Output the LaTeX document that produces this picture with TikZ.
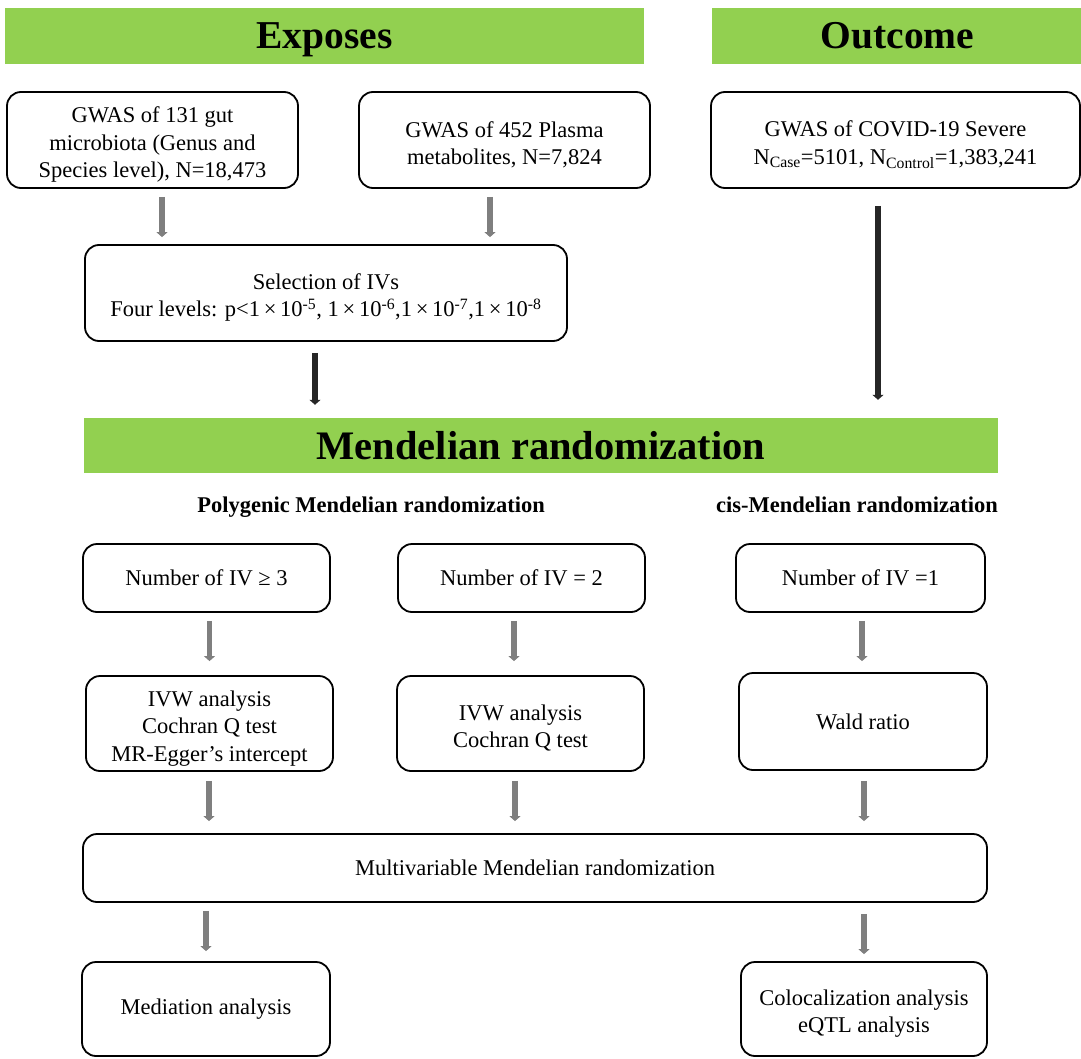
\documentclass[tikz,border=0pt]{standalone}
\usepackage{fontspec}
\setmainfont{Liberation Serif}
\usetikzlibrary{arrows.meta,calc}
\definecolor{hgreen}{HTML}{92D050}
\definecolor{garr}{HTML}{7F7F7F}
\definecolor{darr}{HTML}{262626}
\newcommand{\firstln}{\rule{0pt}{25pt}}
\begin{document}
\begin{tikzpicture}[x=1pt,y=-1pt,
  box/.style={draw=black,line width=1.8pt,rounded corners=14pt,align=center,
    font=\fontsize{22.5}{27.5}\selectfont,inner sep=0pt},
  bar/.style={fill=hgreen,draw=none,inner sep=0pt,text height=26pt,text depth=0pt,
    font=\fontsize{39.5}{41}\selectfont\bfseries},
  sublabel/.style={inner sep=0pt,text height=15pt,text depth=0pt,font=\fontsize{22.5}{25}\selectfont\bfseries},
  garrow/.style={draw=garr,line width=5.5pt,-{Triangle[length=5pt,width=11pt]}},
  darrow/.style={draw=darr,line width=5.5pt,-{Triangle[length=5pt,width=11pt]}}]
\useasboundingbox (0,0) rectangle (1081,1059);
% header bars
\node[bar,minimum width=639pt,minimum height=56pt] (exp) at (324.5,36) {Exposes};
\node[bar,minimum width=371pt,minimum height=56pt] (out) at (897.5,36) {Outcome};
% top boxes
\node[box,minimum width=291pt,minimum height=96pt] (b1) at (152.5,140)
  {\firstln GWAS of 131 gut\\microbiota (Genus and\\Species level), N=18,473};
\node[box,minimum width=291pt,minimum height=96pt] (b2) at (504.5,140)
  {\firstln GWAS of 452 Plasma\\metabolites, N=7,824};
\node[box,minimum width=369pt,minimum height=96pt] (b3) at (895.5,140)
  {\firstln GWAS of COVID-19 Severe\\N\textsubscript{Case}=5101, N\textsubscript{Control}=1,383,241};
\node[box,minimum width=482pt,minimum height=96pt] (sel) at (326,293)
  {\firstln Selection of IVs\\Four levels: p<1\,×\,10\textsuperscript{-5}, 1\,×\,10\textsuperscript{-6},1\,×\,10\textsuperscript{-7},1\,×\,10\textsuperscript{-8}};
% MR bar
\node[bar,minimum width=914pt,minimum height=55pt,text height=27pt,font=\fontsize{40.5}{42}\selectfont\bfseries] (mr) at (541,445.5) {Mendelian randomization};
\node[sublabel] (poly) at (371,505) {Polygenic Mendelian randomization};
\node[sublabel] (cis) at (857,505) {cis-Mendelian randomization};
% row of IV numbers
\node[box,minimum width=247pt,minimum height=68pt] (n3) at (206.5,578) {Number of IV ≥ 3};
\node[box,minimum width=247pt,minimum height=68pt] (n2) at (521.5,578) {Number of IV = 2};
\node[box,minimum width=249pt,minimum height=68pt] (n1) at (860.5,578) {Number of IV =1};
% methods
\node[box,minimum width=247pt,minimum height=95pt] (ivw3) at (209.5,723.5)
  {\firstln IVW analysis\\Cochran Q test\\MR-Egger’s intercept};
\node[box,minimum width=247pt,minimum height=95pt] (ivw2) at (520.5,723.5)
  {\firstln IVW analysis\\Cochran Q test};
\node[box,minimum width=248pt,minimum height=97pt] (wald) at (863,721.5) {Wald ratio};
% multivariable
\node[box,minimum width=904pt,minimum height=68pt] (mv) at (535,868) {Multivariable Mendelian randomization};
% bottom
\node[box,minimum width=248pt,minimum height=94pt] (med) at (206,1009) {Mediation analysis};
\node[box,minimum width=246pt,minimum height=94pt] (col) at (864,1009) {\firstln Colocalization analysis\\eQTL analysis};
% arrows
\draw[garrow,shorten <=8pt,shorten >=7pt] ([xshift=9.5pt]b1.south) -- ([xshift=9.5pt]b1.south |- sel.north);
\draw[garrow,shorten <=8pt,shorten >=7pt] ([xshift=-14.5pt]b2.south) -- ([xshift=-14.5pt]b2.south |- sel.north);
\draw[darrow,shorten <=11pt,shorten >=13pt] ([xshift=-11pt]sel.south) -- ([xshift=-11pt]sel.south |- mr.north);
\draw[darrow,shorten <=17pt,shorten >=18pt] ([xshift=-17.5pt]b3.south) -- ([xshift=-17.5pt]b3.south |- mr.north);
\draw[garrow,shorten <=8pt,shorten >=14pt] ([xshift=3pt]n3.south) -- ([xshift=3pt]n3.south |- ivw3.north);
\draw[garrow,shorten <=8pt,shorten >=14pt] ([xshift=-7.5pt]n2.south) -- ([xshift=-7.5pt]n2.south |- ivw2.north);
\draw[garrow,shorten <=8pt,shorten >=11pt] ([xshift=1.5pt]n1.south) -- ([xshift=1.5pt]n1.south |- wald.north);
\draw[garrow,shorten <=9pt,shorten >=12pt] ([xshift=-0.5pt]ivw3.south) -- ([xshift=-0.5pt]ivw3.south |- mv.north);
\draw[garrow,shorten <=9pt,shorten >=12pt] ([xshift=-5.5pt]ivw2.south) -- ([xshift=-5.5pt]ivw2.south |- mv.north);
\draw[garrow,shorten <=10pt,shorten >=12pt] ([xshift=1pt]wald.south) -- ([xshift=1pt]wald.south |- mv.north);
\draw[garrow,shorten <=8pt,shorten >=10pt] (med.north |- mv.south) -- (med.north);
\draw[garrow,shorten <=11pt,shorten >=7pt] (col.north |- mv.south) -- (col.north);
\end{tikzpicture}
\end{document}
